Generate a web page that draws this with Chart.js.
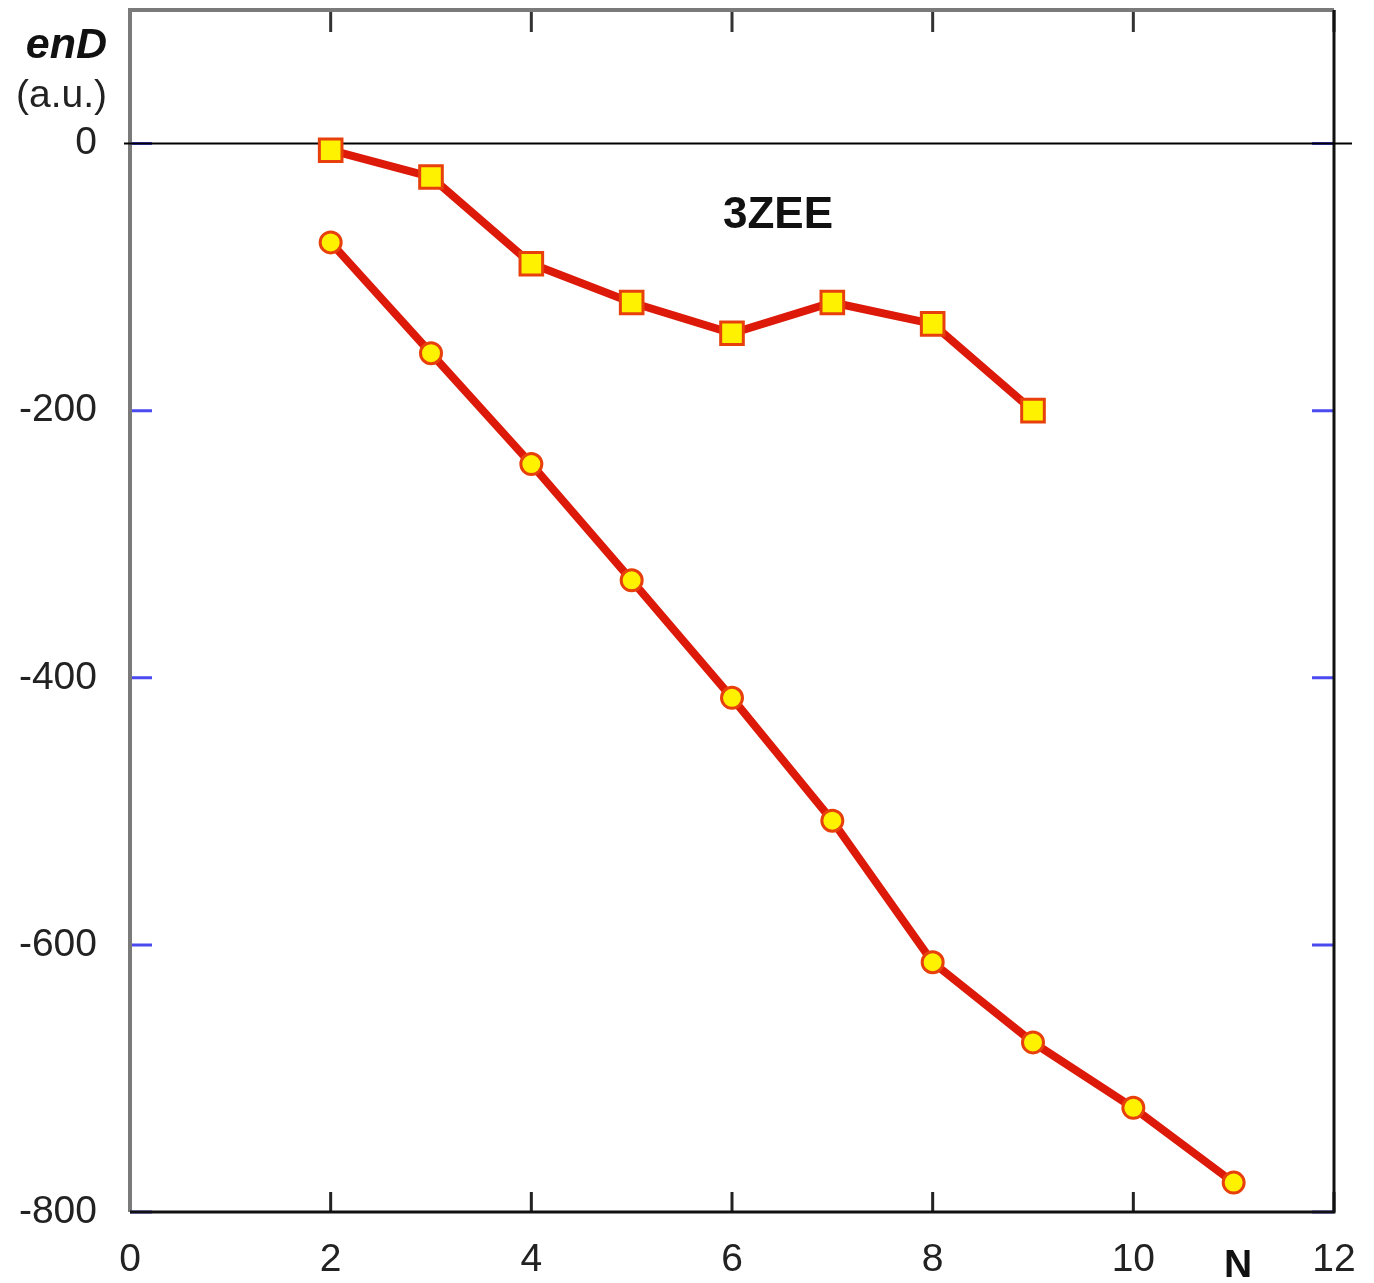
<!DOCTYPE html>
<html>
<head>
<meta charset="utf-8">
<title>enD vs N - 3ZEE</title>
<script src="https://cdn.jsdelivr.net/npm/chart.js@4.4.1/dist/chart.umd.min.js"></script>
<style>
    html, body { margin: 0; padding: 0; background: #fff; }
    #wrap { width: 1374px; height: 1283px; }
</style>
</head>
<body>
<div id="wrap"><canvas id="endChart" width="1374" height="1283"></canvas></div>
<script>
// Data (N on x, enD in a.u. on y)
const squareN = [2, 3, 4, 5, 6, 7, 8, 9];
const squareEnD = [-5, -25, -90, -119, -142, -119, -135, -200];

const circleN = [2, 3, 4, 5, 6, 7, 8, 9, 10, 11];
const circleEnD = [-74, -157, -240, -327, -415, -507, -613, -673, -722, -778];

const xTicks = [0, 2, 4, 6, 8, 10, 12];
const yTicks = [-800, -600, -400, -200, 0];

const lineRed = '#dd1a0a';
const markerFill = '#fff200';
const markerEdge = '#e8400c';
const fontFamily = '"Liberation Sans", Arial, Helvetica, sans-serif';

function toPoints(xs, ys) {
    return xs.map((x, i) => ({ x: x, y: ys[i] }));
}

// #region frame plugin: box, inner ticks and zero line
const framePlugin = {
    id: 'frame',
    beforeDatasetsDraw(chart) {
        const { ctx, chartArea: a, scales } = chart;
        const xs = scales.x, ys = scales.y;
        ctx.save();
        ctx.lineCap = 'butt';

        // blue y ticks on both sides, pointing inwards
        ctx.strokeStyle = '#4a4af0';
        ctx.lineWidth = 3;
        yTicks.forEach(v => {
            const py = ys.getPixelForValue(v);
            ctx.beginPath();
            ctx.moveTo(a.left, py); ctx.lineTo(a.left + 22, py);
            ctx.moveTo(a.right - 22, py); ctx.lineTo(a.right, py);
            ctx.stroke();
        });

        // x ticks at the bottom and the top, pointing inwards
        ctx.lineWidth = 3;
        xTicks.forEach(v => {
            const px = xs.getPixelForValue(v);
            ctx.strokeStyle = '#222';
            ctx.beginPath();
            ctx.moveTo(px, a.bottom); ctx.lineTo(px, a.bottom - 20);
            ctx.stroke();
            ctx.strokeStyle = '#333';
            ctx.beginPath();
            ctx.moveTo(px, a.top); ctx.lineTo(px, a.top + 22);
            ctx.stroke();
        });

        // box: grey left and top, black right and bottom
        ctx.lineWidth = 4;
        ctx.strokeStyle = '#7a7a7a';
        ctx.beginPath();
        ctx.moveTo(a.left, a.bottom); ctx.lineTo(a.left, a.top); ctx.lineTo(a.right, a.top);
        ctx.stroke();
        ctx.lineWidth = 3;
        ctx.strokeStyle = '#111';
        ctx.beginPath();
        ctx.moveTo(a.right, a.top); ctx.lineTo(a.right, a.bottom); ctx.lineTo(a.left, a.bottom);
        ctx.stroke();

        // zero line runs a bit past the box
        const y0 = ys.getPixelForValue(0);
        ctx.lineWidth = 2;
        ctx.strokeStyle = '#000';
        ctx.beginPath();
        ctx.moveTo(a.left - 6, y0); ctx.lineTo(a.right + 18, y0);
        ctx.stroke();
        ctx.restore();
    },
    afterDraw(chart) {
        const { ctx } = chart;
        ctx.save();
        ctx.fillStyle = '#111';
        ctx.textBaseline = 'middle';
        ctx.textAlign = 'right';
        ctx.font = 'italic bold 43px ' + fontFamily;
        ctx.fillText('enD', 107, 46);
        ctx.font = '39px ' + fontFamily;
        ctx.fillStyle = '#222';
        ctx.fillText('(a.u.)', 107, 96);
        ctx.textAlign = 'center';
        ctx.fillStyle = '#111';
        ctx.font = 'bold 44px ' + fontFamily;
        ctx.fillText('3ZEE', 778, 216);
        ctx.font = 'bold 39px ' + fontFamily;
        ctx.fillText('N', 1238, 1266);
        ctx.restore();
    }
};
// #endregion frame plugin

const ctx = document.getElementById('endChart').getContext('2d');

const endChart = new Chart(ctx, {
    type: 'line',
    data: {
        datasets: [{
            label: 'squares',
            data: toPoints(squareN, squareEnD),
            borderColor: lineRed,
            borderWidth: 8,
            pointStyle: 'rect',
            pointRadius: 16,
            pointBackgroundColor: markerFill,
            pointBorderColor: markerEdge,
            pointBorderWidth: 3,
            tension: 0
        }, {
            label: 'circles',
            data: toPoints(circleN, circleEnD),
            borderColor: lineRed,
            borderWidth: 8,
            pointStyle: 'circle',
            pointRadius: 10.5,
            pointBackgroundColor: markerFill,
            pointBorderColor: markerEdge,
            pointBorderWidth: 3,
            tension: 0
        }]
    },
    options: {
        responsive: false,
        animation: false,
        layout: {
            autoPadding: false,
            padding: { top: 10, right: 40, left: 0, bottom: 0 }
        },
        plugins: {
            legend: { display: false },
            title: { display: false },
            tooltip: { enabled: false }
        },
        scales: {
            x: {
                type: 'linear',
                min: 0,
                max: 12,
                afterBuildTicks: scale => { scale.ticks = xTicks.map(v => ({ value: v })); },
                afterFit: scale => {
                    scale.height = 71;
                    scale.paddingLeft = 0; scale.paddingRight = 0;
                    scale.paddingTop = 0; scale.paddingBottom = 0;
                },
                grid: { display: false, drawTicks: false },
                border: { display: false },
                ticks: {
                    padding: 25,
                    color: '#222',
                    font: { family: fontFamily, size: 39 },
                    maxRotation: 0
                }
            },
            y: {
                type: 'linear',
                min: -800,
                max: 100,
                afterBuildTicks: scale => { scale.ticks = yTicks.map(v => ({ value: v })); },
                afterFit: scale => {
                    scale.width = 130;
                    scale.paddingLeft = 0; scale.paddingRight = 0;
                    scale.paddingTop = 0; scale.paddingBottom = 0;
                },
                grid: { display: false, drawTicks: false },
                border: { display: false },
                ticks: {
                    padding: 33,
                    color: '#222',
                    font: { family: fontFamily, size: 39 }
                }
            }
        }
    },
    plugins: [framePlugin]
});
</script>
</body>
</html>
